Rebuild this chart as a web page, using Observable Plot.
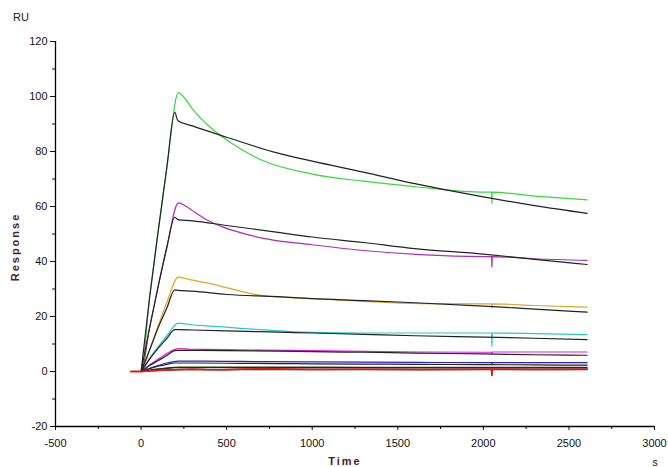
<!DOCTYPE html>
<html><head><meta charset="utf-8">
<script src="https://cdn.jsdelivr.net/npm/d3@7"></script>
<script src="https://cdn.jsdelivr.net/npm/@observablehq/plot@0.6"></script>
<style>body{margin:0;background:#fff} svg{display:block}</style>
</head><body><div id="chart"></div>
<script>
// Measured sensorgram curves (time in s, response in RU)
const dataTimes = [-60, 0, 50, 100, 150, 218, 260, 300, 380, 480, 580, 700, 1000, 1300, 1630, 2000, 2048, 2050, 2052, 2300, 2606];
const curveGreen   = [0, 0, 27, 51, 74, 101.4, 99, 95.5, 90.2, 85.1, 81, 77, 71.8, 69.2, 67, 65.2, 65.2, 61, 65.2, 63.8, 62.4];
const curvePurple  = [0, 0, 16, 31, 45, 61.3, 60.2, 58.5, 55.3, 52.5, 50.5, 48.6, 46.1, 44, 42.5, 41.8, 41.8, 37.9, 41.8, 41, 40.4];
const curveOrange  = [0, 0, 7.8, 16.6, 25, 34.3, 33.8, 33.2, 32.3, 30.8, 29.2, 27.7, 26.5, 25.5, 24.7, 24.6, 24.6, 23, 24.6, 24, 23.4];
const curveCyan    = [0, 0, 5, 9, 13, 17.6, 17.3, 17.0, 16.6, 16.2, 15.7, 15.2, 14.2, 14.0, 14.0, 14.0, 14.0, 9, 14.0, 13.8, 13.4];
const curveMagenta = [0, 0, 2.5, 4.5, 6.5, 8.3, 8.2, 8.1, 8.05, 8.0, 7.9, 7.8, 7.6, 7.3, 7.1, 7.0, 7.0, 6.5, 7.1, 7.1, 7.1];
const curveBlue    = [0, 0, 1.2, 2.2, 3.1, 3.8, 3.8, 3.8, 3.75, 3.7, 3.65, 3.6, 3.5, 3.4, 3.3, 3.2, 3.2, 2.5, 3.2, 3.2, 3.2];
const curveDkGreen = [0, 0, 0.5, 1, 1.3, 1.6, 1.6, 1.6, 1.6, 1.6, 1.6, 1.6, 1.6, 1.5, 1.5, 1.5, 1.5, 1.5, 1.5, 1.5, 1.5];
const curveRed     = [0, 0, 0.2, 0.4, 0.5, 0.7, 0.8, 0.9, 0.7, 0.6, 0.9, 1.0, 0.8, 0.9, 0.7, 0.9, 0.9, -1.4, 0.9, 0.8, 0.9];

// Fitted curves (black)
const fitTimes = [0, 50, 100, 150, 197, 215, 300, 500, 800, 1000, 1300, 1600, 2000, 2300, 2606];
const fit1 = [0, 27, 51, 74, 94.2, 91.2, 89.3, 85.2, 79.4, 76.5, 72.5, 68.3, 63.5, 60.3, 57.5];
const fit2 = [0, 16, 31, 45, 56.1, 55.2, 54.8, 53.1, 50.6, 48.9, 46.9, 44.7, 42.7, 40.8, 38.9];
const fit3 = [0, 7.8, 16, 23, 29.7, 29.5, 29.2, 28, 27.2, 26.5, 25.8, 25, 23.8, 22.7, 21.6];
const fit4 = [0, 4.5, 8.5, 12, 15.2, 15.2, 15.1, 14.8, 14.3, 14.0, 13.5, 13.0, 12.5, 12.1, 11.6];
const fit5 = [0, 2.2, 4, 5.8, 7.6, 7.7, 7.7, 7.6, 7.4, 7.2, 7.0, 6.7, 6.4, 6.1, 5.9];
const fit6 = [0, 1, 1.9, 2.6, 3.1, 3.1, 3.1, 3.0, 2.9, 2.8, 2.7, 2.6, 2.5, 2.4, 2.3];
const fit7 = [0, 0.4, 0.8, 1.1, 1.4, 1.4, 1.4, 1.4, 1.4, 1.4, 1.4, 1.3, 1.3, 1.3, 1.3];
const fit8 = [0, 0.2, 0.4, 0.5, 0.7, 0.7, 0.7, 0.7, 0.7, 0.7, 0.7, 0.7, 0.7, 0.7, 0.7];

const xTicks = [-500, 0, 500, 1000, 1500, 2000, 2500, 3000];
const xMinor = [-250, 250, 750, 1250, 1750, 2250, 2750];
const yTicks = [-20, 0, 20, 40, 60, 80, 100, 120];
const yMinor = [-10, 10, 30, 50, 70, 90, 110];

const dataSeries = [
  {values: curveDkGreen, color: "#1e5a1e"},
  {values: curveBlue, color: "#2222cc"},
  {values: curveMagenta, color: "#e020e0"},
  {values: curveCyan, color: "#22cccc"},
  {values: curveOrange, color: "#e0a628"},
  {values: curvePurple, color: "#b02cb0"},
  {values: curveGreen, color: "#3ad83a"}
];
const fitSeries = [fit1, fit2, fit3, fit4, fit5, fit6, fit7, fit8];

const toRows = (times, vals) => times.map((t, i) => ({t, v: vals[i]}));

const marks = [
  Plot.axisX({ticks: xTicks, tickSize: 4, tickPadding: 9, label: null, fontSize: 11, tickFormat: d => String(d)}),
  Plot.axisX({ticks: xMinor, tickSize: 3, tickPadding: 0, label: null, tickFormat: () => ""}),
  Plot.axisY({ticks: yTicks, tickSize: 5, tickPadding: 3, label: null, fontSize: 11, tickFormat: d => String(d)}),
  Plot.axisY({ticks: yMinor, tickSize: 3, tickPadding: 0, label: null, tickFormat: () => ""}),
  Plot.ruleX([-500], {stroke: "#000", strokeWidth: 1.3}),
  Plot.ruleY([-20], {stroke: "#000", strokeWidth: 1.3})
];
for (const s of dataSeries) {
  marks.push(Plot.line(toRows(dataTimes, s.values), {x: "t", y: "v", stroke: s.color, strokeWidth: 1.2, curve: "monotone-x"}));
}
for (const f of fitSeries) {
  marks.push(Plot.line(toRows(fitTimes, f), {x: "t", y: "v", stroke: "#222", strokeWidth: 1.2, curve: "monotone-x"}));
}
marks.push(Plot.line(toRows(dataTimes, curveRed), {x: "t", y: "v", stroke: "#e01818", strokeWidth: 1.8}));

const chart = Plot.plot({
  width: 668, height: 467,
  marginLeft: 55, marginRight: 14, marginTop: 41, marginBottom: 41,
  style: {fontFamily: "'Liberation Sans', Arial, sans-serif", color: "#111", background: "#fff"},
  x: {domain: [-500, 3000]},
  y: {domain: [-20, 120]},
  marks
});
document.getElementById("chart").appendChild(chart);

const svg = d3.select(chart);
const font = "'Liberation Sans', Arial, sans-serif";
svg.append("text").attr("x", 21).attr("y", 21).attr("font-family", font).attr("font-size", 11).attr("fill", "#222").text("RU");
svg.append("text").attr("x", 655).attr("y", 466).attr("font-family", font).attr("font-size", 11).attr("fill", "#222").text("s");
svg.append("text").attr("x", 345).attr("y", 465).attr("text-anchor", "middle").attr("font-family", font).attr("font-size", 11).attr("font-weight", "bold").attr("letter-spacing", "2px").attr("fill", "#4a2020").text("Time");
svg.append("text").attr("transform", "translate(19,247) rotate(-90)").attr("text-anchor", "middle").attr("font-family", font).attr("font-size", 11).attr("font-weight", "bold").attr("letter-spacing", "2px").attr("fill", "#4a2020").text("Response");
</script>
</body></html>
